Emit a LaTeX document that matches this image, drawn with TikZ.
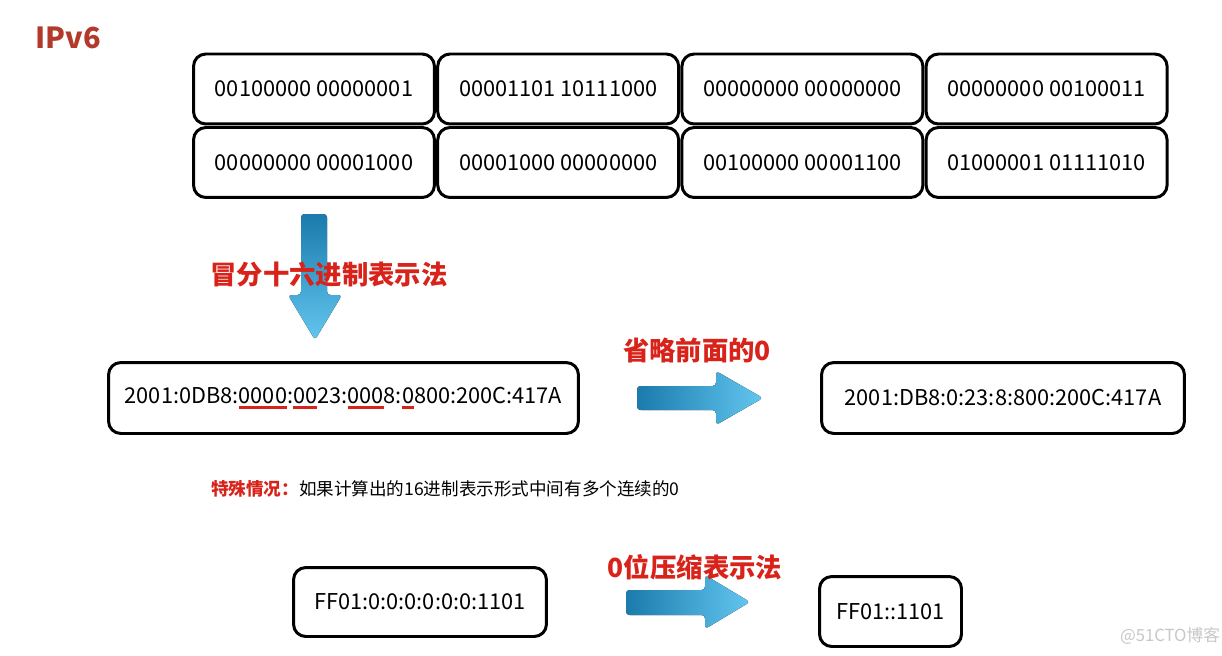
\documentclass[tikz,border=0pt]{standalone}
\usepackage{fontspec}
\setmainfont{Noto Sans CJK SC}
\usetikzlibrary{positioning}
\definecolor{titlered}{HTML}{B33A2B}
\definecolor{labelred}{HTML}{D8231B}
\definecolor{arrowdark}{HTML}{1A7BAC}
\definecolor{arrowlight}{HTML}{63C6EF}
\newsavebox{\ulbox}
\newcommand{\zeroline}[1]{\sbox{\ulbox}{#1}\rlap{\color{labelred}\rule[-3.4pt]{\wd\ulbox}{1.5pt}}\usebox{\ulbox}}

\tikzset{
  bitbox/.style={draw,line width=1.7pt,rounded corners=7pt,inner sep=0pt,
    minimum width=4.82cm,minimum height=1.40cm,font=\fontsize{12.4}{15}\selectfont},
  redlabel/.style={text=labelred,font=\fontsize{15}{18}\selectfont\bfseries},
  blockarrow/.style={left color=arrowdark,right color=arrowlight,rounded corners=2pt},
}

\begin{document}
\begin{tikzpicture}[x=0.02cm,y=-0.02cm]
  \useasboundingbox (0,0) rectangle (1222,655);
  \node[text=titlered,font=\fontsize{16.5}{19}\selectfont\bfseries] (title) at (68,38) {IPv6};
  % 128 bits, two rows of four boxes
  \foreach \r/\c/\bits in {%
    0/0/{00100000 00000001}, 0/1/{00001101 10111000},
    0/2/{00000000 00000000}, 0/3/{00000000 00100011},
    1/0/{00000000 00001000}, 1/1/{00001000 00000000},
    1/2/{00100000 00001100}, 1/3/{01000001 01111010}%
  }{
    \node[bitbox] (b\r\c) at ({314+\c*244.2},{89+\r*73.5}) {\bits};
  }
  % colon hex
  \fill[top color=arrowdark,bottom color=arrowlight,rounded corners=2pt]
    (301,214) -- (327,214) -- (327,295) -- (342,295) -- (315,340)
    -- (288,295) -- (301,295) -- cycle;
  \node[redlabel] (hexlbl) at (329,275) {冒分十六进制表示法};
  \node[bitbox,minimum width=9.40cm,minimum height=1.42cm] (full) at (343.5,398)
    {2001:0DB8:\zeroline{0000}:\zeroline{00}23:\zeroline{000}8:\zeroline{0}800:200C:417A};
  \fill[blockarrow] (637,386) -- (716,386) -- (716,371) -- (763,398)
    -- (716,425) -- (716,410) -- (637,410) -- cycle;
  \node[redlabel] (leadlbl) at (697,350) {省略前面的0};
  \node[bitbox,minimum width=7.26cm,minimum height=1.42cm] (lead) at (1003,398)
    {2001:DB8:0:23:8:800:200C:417A};
  % special case
  \node[anchor=west,font=\fontsize{10}{12}\selectfont] (special) at (205,489)
    {\textcolor{labelred}{\bfseries 特殊情况：}如果计算出的16进制表示形式中间有多个连续的0};
  \node[bitbox,minimum width=5.06cm,minimum height=1.38cm] (zeros) at (420,602)
    {FF01:0:0:0:0:0:0:1101};
  \fill[blockarrow] (626,590) -- (705,590) -- (705,575) -- (750,602)
    -- (705,629) -- (705,615) -- (626,615) -- cycle;
  \node[redlabel] (ziplbl) at (695,567) {0位压缩表示法};
  \node[bitbox,minimum width=2.84cm,minimum height=1.40cm] (short) at (890.5,611.5)
    {FF01::1101};
  \node[text=black!22,font=\fontsize{9.5}{11}\selectfont] (mark) at (1170,636) {@51CTO博客};
\end{tikzpicture}
\end{document}
